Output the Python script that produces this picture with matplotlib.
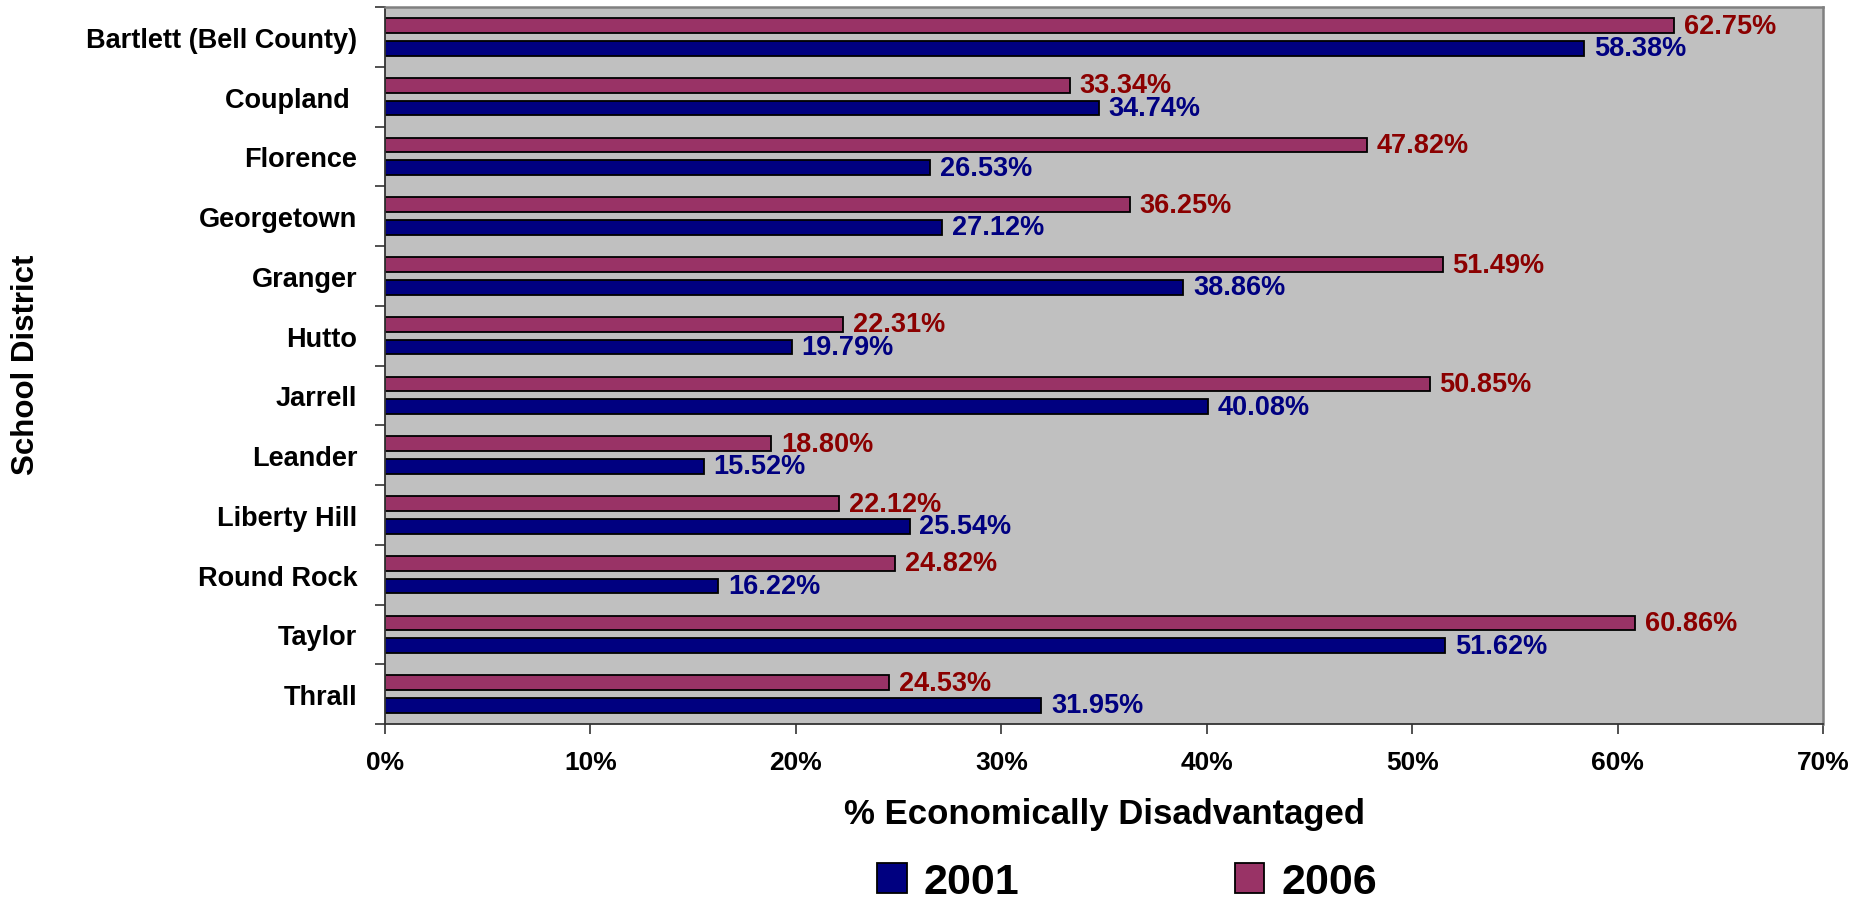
import matplotlib.pyplot as plt
import numpy as np
from matplotlib.ticker import FuncFormatter, FixedLocator

plt.rcParams['font.family'] = ['Liberation Sans', 'DejaVu Sans']
plt.rcParams['font.weight'] = 'bold'

# Data
districts = [
    "Bartlett (Bell County)", "Coupland ", "Florence", "Georgetown", "Granger",
    "Hutto", "Jarrell", "Leander", "Liberty Hill", "Round Rock", "Taylor", "Thrall",
]
pct_2001 = [58.38, 34.74, 26.53, 27.12, 38.86, 19.79, 40.08, 15.52, 25.54, 16.22, 51.62, 31.95]
pct_2006 = [62.75, 33.34, 47.82, 36.25, 51.49, 22.31, 50.85, 18.80, 22.12, 24.82, 60.86, 24.53]

navy = '#000080'
plum = '#993366'
navy_txt = '#000080'
red_txt = '#8B0000'

fig = plt.figure(figsize=(18.66, 9.03), dpi=100)
ax = fig.add_axes([385 / 1866, 1 - 725 / 903, (1823 - 385) / 1866, (725 - 8) / 903])
ax.set_facecolor('#C0C0C0')

y = np.arange(len(districts))
h = 0.25
off = 0.19

b01 = ax.barh(y + off, pct_2001, height=h, color=navy, edgecolor='black',
              linewidth=1.3, label='2001')
b06 = ax.barh(y - off, pct_2006, height=h, color=plum, edgecolor='black',
              linewidth=1.3, label='2006')

for bars, vals, col in [(b01, pct_2001, navy_txt), (b06, pct_2006, red_txt)]:
    ax.bar_label(bars, labels=[f"{v:.2f}%" for v in vals], padding=7,
                 color=col, fontsize=19.5, fontweight='bold')

ax.set_xlim(0, 70)
ax.set_ylim(len(districts) - 0.5, -0.5)
ax.set_xticks(np.arange(0, 71, 10))
ax.xaxis.set_major_formatter(FuncFormatter(lambda v, p: f"{v:.0f}%"))
ax.tick_params(axis='x', labelsize=19, length=7, width=1.2, pad=12, color='#333333')

ax.set_yticks(y)
ax.set_yticklabels(districts, fontsize=19.5, fontweight='bold')
ax.yaxis.set_minor_locator(FixedLocator(np.arange(-0.5, len(districts), 1)))
ax.tick_params(axis='y', which='major', length=0, pad=20)
ax.tick_params(axis='y', which='minor', length=7, width=1.2, color='#333333')

for s in ['left', 'bottom']:
    ax.spines[s].set_color('#333333')
    ax.spines[s].set_linewidth(1.3)
for s in ['top', 'right']:
    ax.spines[s].set_color('#808080')
    ax.spines[s].set_linewidth(1.8)

ax.set_xlabel("% Economically Disadvantaged", fontsize=25, fontweight='bold', labelpad=16)
fig.text(26 / 1866, 1 - 365 / 903, "School District", rotation=90, fontsize=22.5,
         fontweight='bold', ha='center', va='center')

fig.legend(handles=[b01, b06], labels=['2001', '2006'], loc='upper center',
           bbox_to_anchor=(0.604, 0.068), ncol=2, frameon=False, fontsize=31,
           handlelength=0.68, handleheight=0.68, handletextpad=0.4,
           columnspacing=5.0, borderpad=0)

fig.savefig("out.png", dpi=100)
